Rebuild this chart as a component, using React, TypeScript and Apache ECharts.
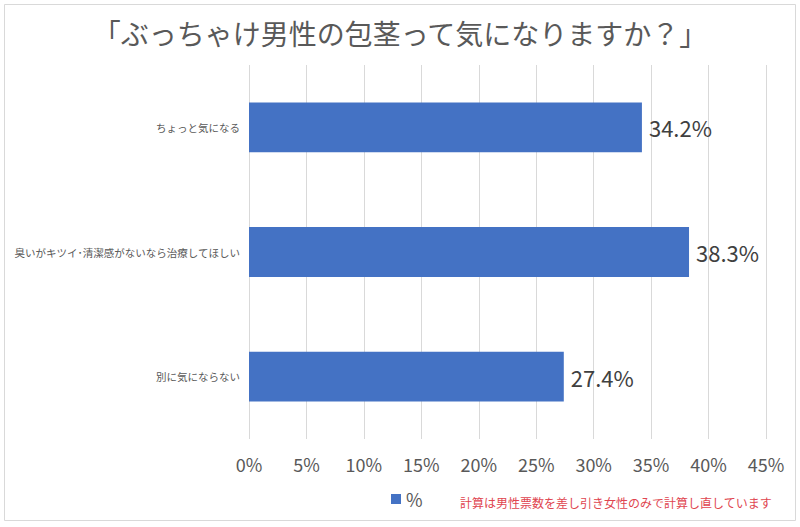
import React, { useEffect, useRef } from "react";
import * as echarts from "echarts";

const categories = [
  "ちょっと気になる",
  "臭いがキツイ･清潔感がないなら治療してほしい",
  "別に気にならない",
];
const values = [34.2, 38.3, 27.4];
const seriesName = "%";
const titleText = "「ぶっちゃけ男性の包茎って気になりますか？」";
const noteText = "計算は男性票数を差し引き女性のみで計算し直しています";

const FONT = "'Noto Sans CJK JP', 'Noto Sans', sans-serif";

export default function App() {
  const ref = useRef<HTMLDivElement>(null);
  useEffect(() => {
    document.body.style.margin = "0";
    if (!ref.current) return;
    const chart = echarts.init(ref.current, undefined, { renderer: "svg" });
    chart.setOption({
      animation: false,
      backgroundColor: "#ffffff",
      textStyle: { fontFamily: FONT },
      title: {
        text: titleText,
        left: "center",
        top: 14,
        textStyle: { fontFamily: FONT, fontSize: 28, fontWeight: "normal", color: "#595959" },
      },
      grid: { left: 249, right: 34, top: 65, bottom: 88, containLabel: false },
      legend: {
        data: [seriesName],
        left: 386,
        top: 485,
        itemWidth: 10,
        itemHeight: 10,
        itemGap: 10,
        icon: "rect",
        textStyle: { fontFamily: FONT, fontSize: 18, color: "#595959" },
      },
      xAxis: {
        type: "value",
        min: 0,
        max: 45,
        interval: 5,
        axisLine: { show: false },
        axisTick: { show: false },
        splitLine: { show: true, lineStyle: { color: "#d9d9d9", width: 1 } },
        axisLabel: {
          formatter: "{value}%",
          fontFamily: FONT,
          fontSize: 18,
          color: "#595959",
          margin: 16,
        },
      },
      yAxis: {
        type: "category",
        data: categories,
        inverse: true,
        axisLine: { show: false },
        axisTick: { show: false },
        splitLine: { show: false },
        axisLabel: { fontFamily: FONT, fontSize: 10.5, color: "#595959", margin: 9 },
      },
      series: [
        {
          name: seriesName,
          type: "bar",
          data: values,
          barWidth: "40%",
          itemStyle: { color: "#4472C4" },
          label: {
            show: true,
            position: "right",
            distance: 7,
            formatter: "{c}%",
            fontFamily: FONT,
            fontSize: 22,
            color: "#404040",
          },
        },
      ],
      graphic: [
        {
          type: "rect",
          shape: { x: 4.5, y: 4.5, width: 791, height: 516 },
          style: { fill: "none", stroke: "#d9d9d9", lineWidth: 1 },
          silent: true,
          z: -1,
        },
        {
          type: "text",
          left: 460,
          top: 496,
          style: {
            text: noteText,
            fontFamily: FONT,
            fontSize: 12,
            fill: "#e0454f",
          },
        },
      ],
    });
    return () => chart.dispose();
  }, []);
  return <div ref={ref} style={{ width: 800, height: 527 }} />;
}
